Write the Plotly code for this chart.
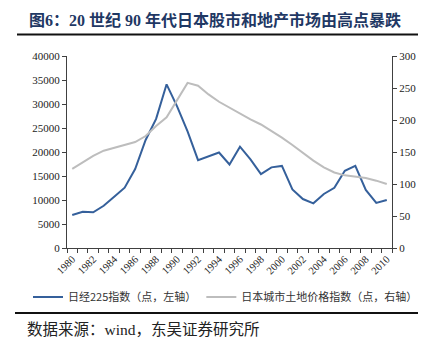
import plotly.graph_objects as go

years = list(range(1980, 2011))
nikkei = [6870, 7560, 7430, 8800, 10700, 12570, 16450, 22500, 26900, 34100,
          29500, 24300, 18300, 19100, 19900, 17400, 21100, 18450, 15400, 16800,
          17100, 12200, 10200, 9300, 11250, 12550, 16100, 17100, 12100, 9400, 10000]
land = [123.5, 134, 143.8, 152, 156.8, 161, 165.6, 175, 190.6, 204.2,
        231, 258, 253.6, 240, 228.5, 219.3, 209.4, 201, 193, 183.3,
        172.4, 161, 149, 136.5, 126, 118, 113.5, 111.5, 109.4, 105.2, 100]
xtick_labels = [str(y) for y in range(1980, 2011, 2)]

name1 = "日经225指数（点，左轴）"
name2 = "日本城市土地价格指数（点，右轴）"
title = "图6：20 世纪 90 年代日本股市和地产市场由高点暴跌"
source = "数据来源：wind，东吴证券研究所"

serif = "Liberation Serif, Noto Sans CJK SC"
cjk = "Noto Sans CJK SC"
axis_col = "#404040"

fig = go.Figure()
fig.add_trace(go.Scatter(x=years, y=nikkei, name=name1, mode="lines",
                         line=dict(color="#35609b", width=2), yaxis="y"))
fig.add_trace(go.Scatter(x=years, y=land, name=name2, mode="lines",
                         line=dict(color="#bdbdbd", width=2), yaxis="y2"))

W, H = 429, 343
L, R, T, B = 67, 37, 56, 95
pw, ph = W - L - R, H - T - B

def px(xp):
    return (xp - L) / pw

def py(yp):
    return (H - B - yp) / ph

fig.update_layout(
    width=W, height=H,
    margin=dict(l=L, r=R, t=T, b=B, pad=0),
    paper_bgcolor="white", plot_bgcolor="white",
    showlegend=True,
    legend=dict(orientation="h", x=px(28), y=py(297), xanchor="left", yanchor="middle",
                font=dict(family=cjk, size=11, color="#333333"),
                itemwidth=30, bgcolor="rgba(0,0,0,0)", borderwidth=0),
    xaxis=dict(range=[1979.5, 2010.5], tickvals=list(range(1980, 2011, 2)),
               ticktext=xtick_labels, tickangle=-45, ticks="",
               showline=True, linecolor=axis_col, linewidth=1,
               showgrid=False, zeroline=False,
               tickfont=dict(family=serif, size=10.5, color="#222222"),
               minor=dict(tickvals=[y + 0.5 for y in range(1979, 2011)],
                          ticks="outside", ticklen=4, tickcolor=axis_col, showgrid=False)),
    yaxis=dict(range=[0, 40000], dtick=5000, ticks="outside", ticklen=4,
               tickformat="d",
               tickcolor=axis_col, showline=True, linecolor=axis_col, linewidth=1,
               showgrid=False, zeroline=False,
               tickfont=dict(family=serif, size=11, color="#222222")),
    yaxis2=dict(range=[0, 300], dtick=50, overlaying="y", side="right",
                ticks="outside", ticklen=4, tickcolor=axis_col, showline=True,
                linecolor=axis_col, linewidth=1, showgrid=False, zeroline=False,
                tickfont=dict(family=serif, size=11, color="#222222")),
)

fig.add_annotation(text=f"<b>{title}</b>", xref="paper", yref="paper",
                   x=px(214.5), y=py(20), xanchor="center", yanchor="middle",
                   showarrow=False,
                   font=dict(family=serif, size=16, color="#1f3864"))
fig.add_annotation(text=source, xref="paper", yref="paper",
                   x=px(25), y=py(329), xanchor="left", yanchor="middle",
                   showarrow=False,
                   font=dict(family=serif, size=15.5, color="#222222"))
fig.add_shape(type="line", xref="paper", yref="paper",
              x0=px(17), x1=px(418), y0=py(34.5), y1=py(34.5),
              line=dict(color="#111111", width=2))
fig.add_shape(type="line", xref="paper", yref="paper",
              x0=px(15), x1=px(418), y0=py(313), y1=py(313),
              line=dict(color="#111111", width=2))

fig.write_html("out.html")
